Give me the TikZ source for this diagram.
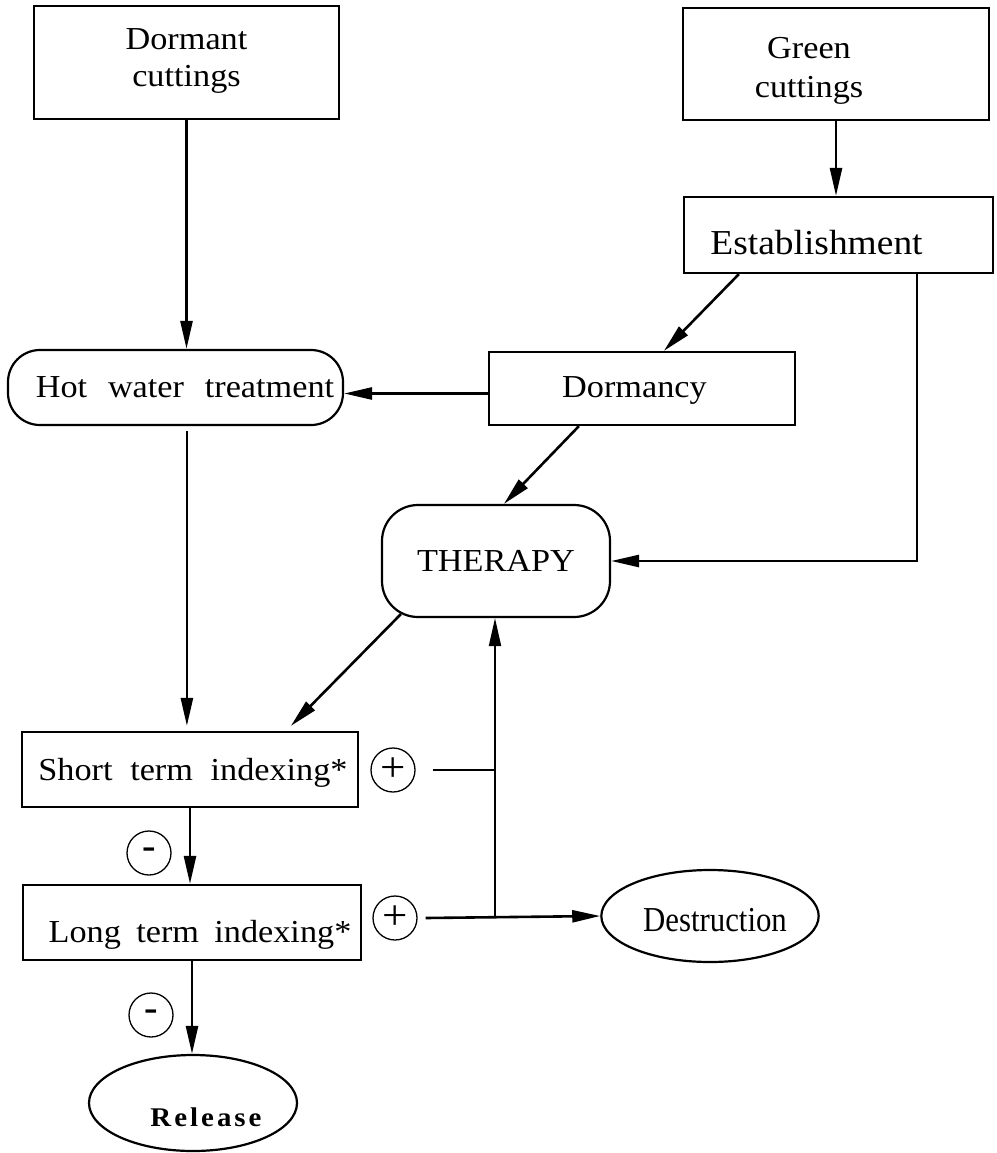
\documentclass[tikz,border=0pt]{standalone}
\usepackage{fontspec}
\setmainfont[FakeStretch=1.07]{Liberation Serif}
\newfontfamily\narrowfont[FakeStretch=0.88]{Liberation Serif}
\usetikzlibrary{arrows.meta,shapes.geometric,calc}
\newcommand\boxfont{\fontsize{32}{37}\selectfont\spaceskip=0.55em plus 0.1em\relax}
\newcommand\widesp{\spaceskip=0.65em\relax}
\newcommand\narrowsp{\spaceskip=0.48em\relax}
% shift text down by #1 while keeping its box size
\newcommand\dn[2]{\raisebox{-#1}[\height][\depth]{#2}}
\tikzset{
  txt/.style={font=\boxfont},
  box/.style={txt, draw, line width=2.2pt, inner sep=0pt},
  rbox/.style={box, rounded corners=32pt},
  oval/.style={txt, draw, line width=2.2pt, ellipse, inner sep=0pt},
  sign/.style={draw, circle, line width=1.3pt, minimum size=44pt, inner sep=0pt},
  conn/.style={line width=2.6pt},
  thin/.style={line width=2pt},
  arr/.style={conn, -{Triangle[length=28pt,width=12pt]}}
}
\begin{document}
\begin{tikzpicture}[x=1pt,y=-1pt]
\useasboundingbox (0,0) rectangle (996,1153);

\node[box, minimum width=305pt, minimum height=113pt] (dc) at (186.5,62.5)
  {\dn{-2pt}{\begin{tabular}{@{}c@{}}Dormant\\cuttings\end{tabular}}};
\node[box, minimum width=306pt, minimum height=112pt] (gc) at (836,64)
  {\dn{6pt}{\def\arraystretch{1.07}\begin{tabular}{@{}c@{}}Green\\cuttings\end{tabular}}\hspace*{54pt}};
\node[box, minimum width=309pt, minimum height=76pt] (est) at (838.5,235)
  {\dn{8pt}{\fontsize{35}{40}\selectfont Establishment}\hspace*{44pt}};
\node[box, minimum width=306pt, minimum height=73pt] (dorm) at (642,388.5)
  {\dn{2pt}{Dormancy}\hspace*{15pt}};
\node[rbox, minimum width=335pt, minimum height=75pt] (hot) at (175.5,387.5)
  {\hspace*{19pt}\widesp Hot water treatment};
\node[rbox, minimum width=228pt, minimum height=112pt, rounded corners=36pt] (ther) at (496,561)
  {THERAPY};
\node[box, minimum width=336pt, minimum height=75pt] (short) at (190,769.5)
  {\hspace*{6pt}\dn{3pt}{Short term indexing*}};
\node[box, minimum width=338pt, minimum height=75pt] (long) at (192,922.5)
  {\hspace*{16pt}\dn{12pt}{\narrowsp Long term indexing*}};
\node[oval, minimum width=192pt, minimum height=92pt] (dest) at (710,916)
  {\hspace*{10pt}\dn{4pt}{\fontsize{35}{40}\narrowfont Destruction}};
\node[oval, minimum width=208pt, minimum height=96pt] (rel) at (193,1103)
  {\hspace*{26pt}\dn{14pt}{\fontsize{27}{30}\selectfont\bfseries R\kern3pt e\kern3pt l\kern3pt e\kern3pt a\kern3pt s\kern3pt e}};

\node[sign] (p1) at (393,770) {\fontsize{42}{42}\selectfont +};
\node[sign] (p2) at (395,918) {\fontsize{42}{42}\selectfont +};
\node[sign] (m1) at (149,853) {\fontsize{38}{38}\selectfont\bfseries -};
\node[sign] (m2) at (151,1015) {\fontsize{38}{38}\selectfont\bfseries -};

\coordinate (j1) at (495,770);
\coordinate (j2) at (495,918);

% connectors
\draw[arr] (dc.south) -- (dc.south |- hot.north);
\draw[arr] (gc.south) -- (gc.south |- est.north);
\draw[arr] ($(est.south west)+(56,0)$) -- ($(dorm.north west)+(176,0)$);
\draw[arr] ($(dorm.west)+(0,5)$) -- ($(hot.east)+(0,6)$);
\draw[arr] ($(est.south west)+(234,0)$) |- (ther.east);
\draw[arr] ($(dorm.south west)+(91,0)$) -- ($(ther.north west)+(123,0)$);
\draw[arr] ($(ther.south west)+(20,-4)$) -- ($(short.north west)+(270,-5)$);
\draw[arr] ($(hot.south west)+(180,5)$) -- ($(short.north west)+(166,-5)$);
\draw[arr] (short.south) -- (short.south |- long.north);
\draw[arr] (long.south) -- (long.south |- rel.north);
\draw[thin] ($(p1.east)+(17,0)$) -- (j1);
\draw[thin, -{Triangle[length=28pt,width=12pt]}] (j2) -- (j2 |- ther.south);
\draw[arr] ($(p2.east)+(8,0)$) -- (dest.west);
\end{tikzpicture}
\end{document}
